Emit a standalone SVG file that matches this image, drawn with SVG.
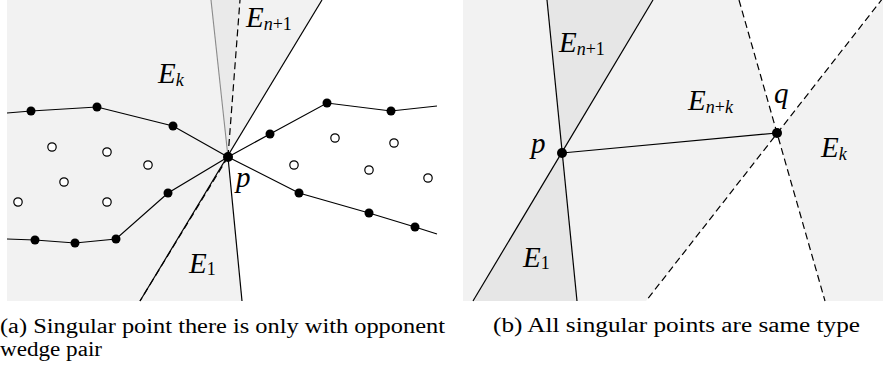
<svg xmlns="http://www.w3.org/2000/svg" width="883" height="371" viewBox="0 0 883 371">
<style>
.bg{fill:#f2f2f2;stroke:none}
.dk{fill:#e6e6e6;stroke:none}
.wh{fill:#ffffff;stroke:none}
.ln{stroke:#000;stroke-width:1.2;fill:none}
.gl{stroke:#8a8a8a;stroke-width:1.1;fill:none}
.da{stroke:#000;stroke-width:1.2;fill:none;stroke-dasharray:7 4}
.dot{fill:#000}
.od{fill:#fff;stroke:#000;stroke-width:1.2}
.m{font-family:"Liberation Serif",serif;font-style:italic;font-size:29px;fill:#000}
.s{font-size:18px}
.su{font-style:normal}
.cap{font-family:"Liberation Serif",serif;font-size:20px;fill:#000}
</style>
<rect width="883" height="371" fill="#fff"/>
<!-- left panel -->
<g id="panel-a-regions">
<polygon class="bg" points="7,0 322,0 228,157 242,301 7,301"/>
<polygon class="dk" points="211,0 240,0 228,157" style="fill:#eaeaea"/>
</g>
<g id="connectors-a">
<line class="ln" x1="322" y1="0" x2="140" y2="301"/>
<line class="da" x1="228" y1="157" x2="140" y2="301"/>
<line class="gl" x1="211" y1="0" x2="228" y2="157"/>
<line class="ln" x1="228" y1="157" x2="242" y2="301"/>
<line class="da" x1="228" y1="157" x2="240" y2="0"/>
<polyline class="ln" points="7,113 31,111 97,107 173,126 228,157"/>
<polyline class="ln" points="228,157 270,134 327,103 391,111 437,106"/>
<polyline class="ln" points="7,239 35,240 75,243 116,239 168,193 228,157"/>
<polyline class="ln" points="228,157 299,193 369,213 415,227 437,234"/>
</g>
<g id="dots-a">
<circle class="dot" cx="31" cy="111" r="4.5"/>
<circle class="dot" cx="97" cy="107" r="4.5"/>
<circle class="dot" cx="173" cy="126" r="4.5"/>
<circle class="dot" cx="270" cy="134" r="4.5"/>
<circle class="dot" cx="327" cy="103" r="4.5"/>
<circle class="dot" cx="391" cy="111" r="4.5"/>
<circle class="dot" cx="35" cy="240" r="4.5"/>
<circle class="dot" cx="75" cy="243" r="4.5"/>
<circle class="dot" cx="116" cy="239" r="4.5"/>
<circle class="dot" cx="168" cy="193" r="4.5"/>
<circle class="dot" cx="299" cy="193" r="4.5"/>
<circle class="dot" cx="369" cy="213" r="4.5"/>
<circle class="dot" cx="415" cy="227" r="4.5"/>
<circle class="od" cx="52" cy="147" r="4.2"/>
<circle class="od" cx="107" cy="152" r="4.2"/>
<circle class="od" cx="148" cy="165" r="4.2"/>
<circle class="od" cx="64" cy="182" r="4.2"/>
<circle class="od" cx="18" cy="202" r="4.2"/>
<circle class="od" cx="107" cy="202" r="4.2"/>
<circle class="od" cx="335" cy="138" r="4.2"/>
<circle class="od" cx="394" cy="143" r="4.2"/>
<circle class="od" cx="294" cy="165" r="4.2"/>
<circle class="od" cx="369" cy="170" r="4.2"/>
<circle class="od" cx="428" cy="178" r="4.2"/>
</g>
<g id="node-p-a">
<circle class="dot" cx="228" cy="157" r="5"/>
<text class="m" x="236" y="187">p</text>
</g>
<g id="labels-a">
<text class="m" x="158" y="83">E<tspan class="s" dy="3">k</tspan></text>
<text class="m" x="246" y="27">E<tspan class="s" dy="3">n<tspan class="su">+1</tspan></tspan></text>
<text class="m" x="189" y="273">E<tspan class="s su" dy="2">1</tspan></text>
</g>
<!-- right panel -->
<g id="panel-b-regions">
<rect class="bg" x="463" y="0" width="420" height="301"/>
<polygon class="dk" points="547,0 653,0 562,153"/>
<polygon class="dk" points="473,301 577,301 562,153"/>
<polygon class="wh" points="777,133 739,0 883,0"/>
<polygon class="wh" points="777,133 646,301 825,301"/>
</g>
<g id="connectors-b">
<line class="ln" x1="547" y1="0" x2="577" y2="301"/>
<line class="ln" x1="653" y1="0" x2="473" y2="301"/>
<line class="ln" x1="562" y1="153" x2="777" y2="133"/>
<line class="da" x1="739" y1="0" x2="825" y2="301"/>
<line class="da" x1="883" y1="-2" x2="646" y2="301"/>
</g>
<g id="node-p-b">
<circle class="dot" cx="562" cy="153" r="5"/>
<text class="m" x="531" y="153">p</text>
</g>
<g id="node-q-b">
<circle class="dot" cx="777" cy="133" r="5"/>
<text class="m" x="774" y="103">q</text>
</g>
<g id="labels-b">
<text class="m" x="559" y="52">E<tspan class="s" dy="3">n<tspan class="su">+1</tspan></tspan></text>
<text class="m" x="523" y="267">E<tspan class="s su" dy="2">1</tspan></text>
<text class="m" x="688" y="110">E<tspan class="s" dy="3">n<tspan class="su">+</tspan>k</tspan></text>
<text class="m" x="821" y="157">E<tspan class="s" dy="3">k</tspan></text>
</g>
<g id="captions">
<text class="cap" x="0" y="333" textLength="445" lengthAdjust="spacingAndGlyphs">(a) Singular point there is only with opponent</text>
<text class="cap" x="0" y="356" textLength="102" lengthAdjust="spacingAndGlyphs">wedge pair</text>
<text class="cap" x="493" y="332" textLength="367" lengthAdjust="spacingAndGlyphs">(b) All singular points are same type</text>
</g>
</svg>
